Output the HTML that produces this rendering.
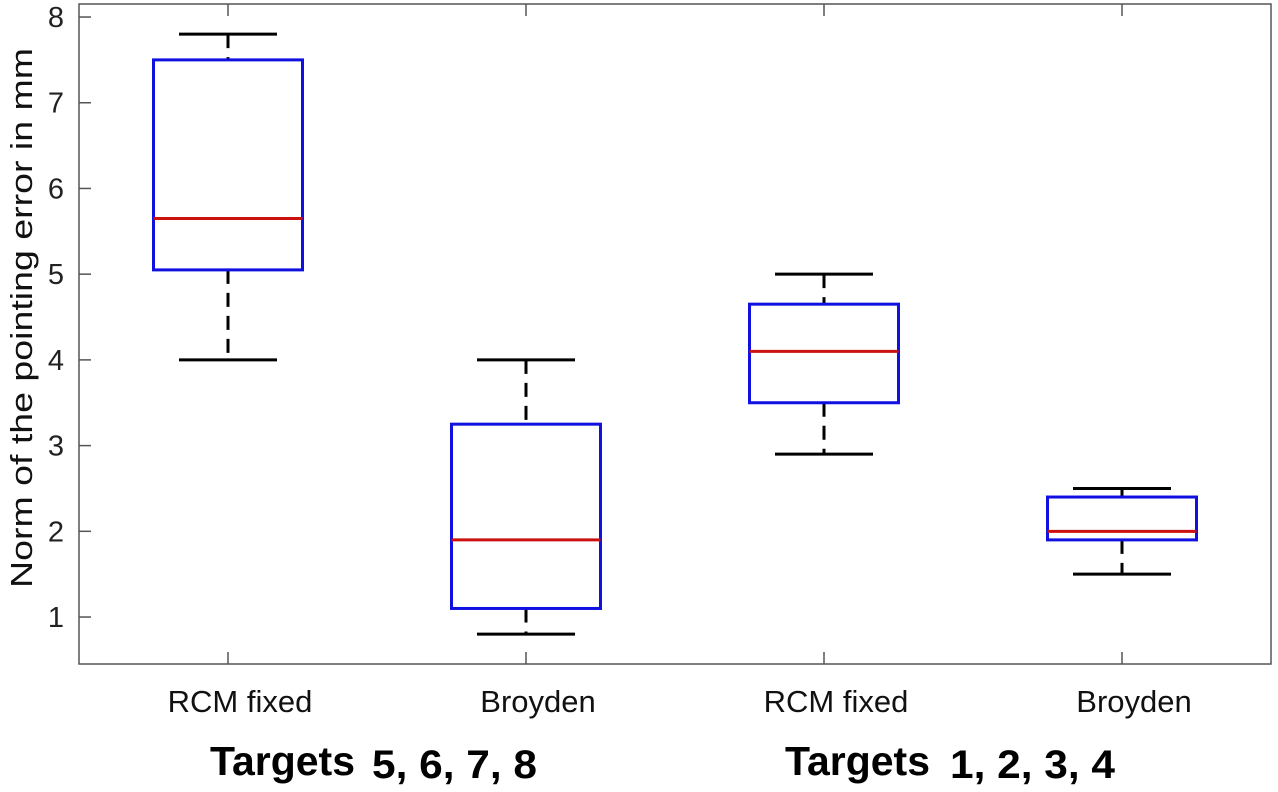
<!DOCTYPE html>
<html><head><meta charset="utf-8"><style>
body{margin:0;background:#fff;}
svg text{font-family:"Liberation Sans",sans-serif;}
</style></head><body>
<svg id="chart" width="1278" height="787" xmlns="http://www.w3.org/2000/svg">
<rect width="1278" height="787" fill="#fff"/>
<g id="plot"></g>
</svg>
<script>
const categories=["RCM fixed","Broyden","RCM fixed","Broyden"];
const mins=[4.0,0.8,2.9,1.5];
const q1s=[5.05,1.1,3.5,1.9];
const medians=[5.65,1.9,4.1,2.0];
const q3s=[7.5,3.25,4.65,2.4];
const maxs=[7.8,4.0,5.0,2.5];
const yTicks=[1,2,3,4,5,6,7,8];
const groupLabels=[["Targets","5, 6, 7, 8"],["Targets","1, 2, 3, 4"]];

const L=79,R=1271,T=4,B=664;
const xMin=0.5,xMax=4.5,yMin=0.452,yMax=8.152;
const xs=v=>L+(v-xMin)/(xMax-xMin)*(R-L);
const ys=v=>B-(v-yMin)/(yMax-yMin)*(B-T);
const ns="http://www.w3.org/2000/svg";
const g=document.getElementById('plot');
function mk(tag,attrs,parent){const e=document.createElementNS(ns,tag);for(const k in attrs)e.setAttribute(k,attrs[k]);(parent||g).appendChild(e);return e;}

let ax=mk('rect',{x:L,y:T,width:R-L,height:B-T,fill:'none',stroke:'#555','stroke-width':1.5});



yTicks.forEach(t=>{
  const y=ys(t);
  let l=mk('line',{x1:L,x2:L+12,y1:y,y2:y,stroke:'#555','stroke-width':1.5});
  
  
  let tx=mk('text',{x:L-15,y:y+10,'text-anchor':'end','font-size':29,fill:'#222'});
  tx.textContent=t;
  
  
});

categories.forEach((c,i)=>{
  const cx=xs(i+1);
  let tk=mk('line',{x1:cx,x2:cx,y1:B,y2:B-12,stroke:'#555','stroke-width':1.5});
  
  
  tk=mk('line',{x1:cx,x2:cx,y1:T,y2:T+12,stroke:'#555','stroke-width':1.5});
  
  
  let lb=mk('text',{x:cx+12,y:712,'text-anchor':'middle','font-size':31,fill:'#111'});
  lb.textContent=c;
  
  

  const bw=(xs(1.25)-xs(1)), cw=49;
  const grp=mk('g',{});
  
  
  mk('line',{x1:cx,x2:cx,y1:ys(maxs[i]),y2:ys(q3s[i]),stroke:'#000','stroke-width':3,'stroke-dasharray':'14,9'},grp);
  mk('line',{x1:cx,x2:cx,y1:ys(q1s[i]),y2:ys(mins[i]),stroke:'#000','stroke-width':3,'stroke-dasharray':'14,9'},grp);
  mk('line',{x1:cx-cw,x2:cx+cw,y1:ys(maxs[i]),y2:ys(maxs[i]),stroke:'#000','stroke-width':3},grp);
  mk('line',{x1:cx-cw,x2:cx+cw,y1:ys(mins[i]),y2:ys(mins[i]),stroke:'#000','stroke-width':3},grp);
  mk('rect',{x:cx-bw,y:ys(q3s[i]),width:2*bw,height:ys(q1s[i])-ys(q3s[i]),fill:'none',stroke:'#1010e0','stroke-width':3},grp);
  mk('line',{x1:cx-bw,x2:cx+bw,y1:ys(medians[i]),y2:ys(medians[i]),stroke:'#cc1010','stroke-width':3},grp);
});

const tEnd=[355,930], nStart=[372,950];
groupLabels.forEach((gl,k)=>{
  let t=mk('text',{x:tEnd[k],y:775,'text-anchor':'end','font-size':41,'font-weight':'bold',fill:'#000',textLength:145,lengthAdjust:'spacingAndGlyphs'});
  t.textContent=gl[0];
  
  
  let n=mk('text',{x:nStart[k],y:778,'text-anchor':'start','font-size':40,'font-weight':'bold',fill:'#000',textLength:165,lengthAdjust:'spacingAndGlyphs'});
  n.textContent=gl[1];
  
  
});

let yt=mk('text',{x:0,y:0,'text-anchor':'middle','font-size':31,fill:'#111',transform:'translate(32,318) rotate(-90)',textLength:540,lengthAdjust:'spacingAndGlyphs'});
yt.textContent='Norm of the pointing error in mm';


</script>
</body></html>
